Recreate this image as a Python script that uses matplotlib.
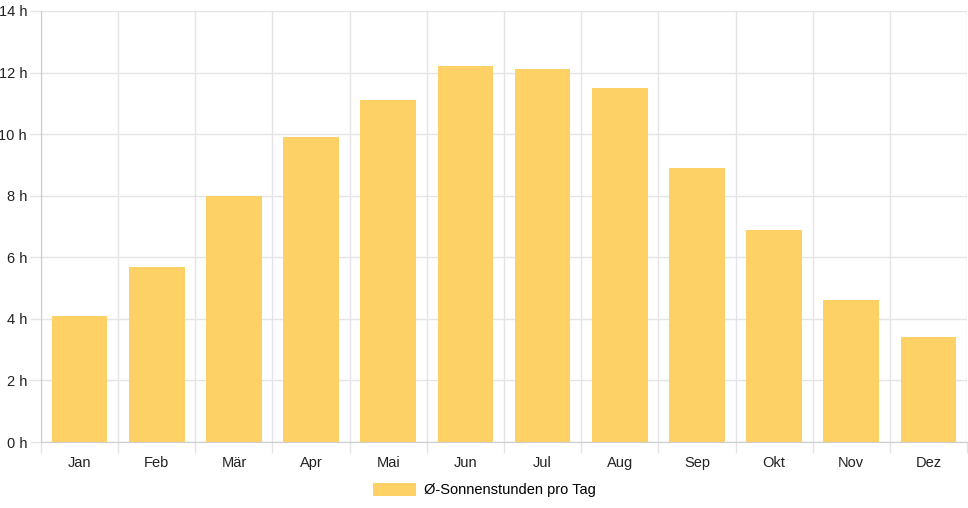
import matplotlib
matplotlib.use("Agg")
import matplotlib.pyplot as plt
import numpy as np
from matplotlib.patches import Patch

# Monthly mean sunshine hours per day
months = ["Jan", "Feb", "Mär", "Apr", "Mai", "Jun", "Jul", "Aug", "Sep", "Okt", "Nov", "Dez"]
sun_hours = [4.1, 5.7, 8.0, 9.9, 11.1, 12.2, 12.1, 11.5, 8.9, 6.9, 4.6, 3.4]
y_ticks = [0, 2, 4, 6, 8, 10, 12, 14]
series_label = "Ø-Sonnenstunden pro Tag"


def plot_sunshine():
    """Draw the bar chart of daily sunshine hours per month."""
    plt.rcParams['font.family'] = ['Liberation Sans', 'DejaVu Sans']
    bar_color = '#FED166'
    grid_color = '#e4e4e4'

    fig = plt.figure(figsize=(9.68, 5.08), dpi=100)
    ax = fig.add_axes([41 / 968, 66 / 508, 926 / 968, 431 / 508])

    x = np.arange(len(months))
    ax.bar(x, sun_hours, width=0.72, color=bar_color, zorder=2)

    ax.set_xlim(-0.5, len(months) - 0.5)
    ax.set_ylim(0, 14)

    # category labels at centres, grid lines at category boundaries
    ax.set_xticks(x)
    ax.set_xticklabels(months)
    ax.set_xticks(np.arange(-0.5, len(months)), minor=True)
    ax.tick_params(axis='x', which='major', length=0, pad=10, labelsize=10.5, colors='#222222')
    ax.tick_params(axis='x', which='minor', length=8, color=grid_color, width=1)
    ax.grid(True, axis='x', which='minor', color=grid_color, linewidth=1, zorder=0)

    ax.set_yticks(y_ticks)
    ax.set_yticklabels([f"{v} h" for v in y_ticks])
    ax.tick_params(axis='y', length=8, color=grid_color, width=1, pad=2, labelsize=10.5, colors='#222222')
    ax.tick_params(axis='y', colors=grid_color, labelcolor='#222222')
    ax.grid(True, axis='y', color=grid_color, linewidth=1, zorder=0)

    for side in ['top', 'right']:
        ax.spines[side].set_visible(False)
    for side in ['left', 'bottom']:
        ax.spines[side].set_color('#cccccc')

    handle = Patch(facecolor=bar_color, edgecolor='none', label=series_label)
    fig.legend(handles=[handle], loc='center', bbox_to_anchor=(0.5, 1 - 490 / 508),
               frameon=False, fontsize=10.5, handlelength=3.0, handleheight=1.0,
               handletextpad=0.5)

    fig.savefig('out.png', dpi=100)


if __name__ == '__main__':
    plot_sunshine()
